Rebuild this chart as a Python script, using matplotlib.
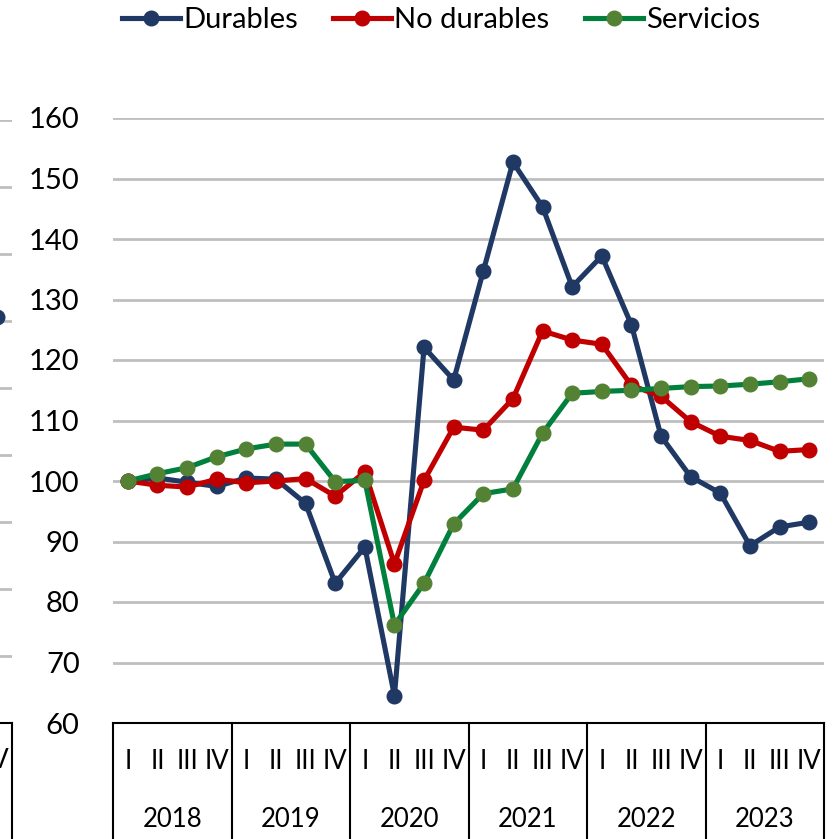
import matplotlib
matplotlib.use("Agg")
import matplotlib.pyplot as plt

plt.rcParams['font.family'] = ['Lato', 'DejaVu Sans']

years = ['2018', '2019', '2020', '2021', '2022', '2023']
quarters = ['I', 'II', 'III', 'IV']

durables = [100.0, 100.5, 99.8, 99.1, 100.5, 100.3, 96.3, 83.1,
            89.1, 64.5, 122.1, 116.7, 134.7, 152.7, 145.3, 132.1,
            137.2, 125.8, 107.4, 100.7, 98.0, 89.3, 92.4, 93.2]
no_durables = [100.0, 99.3, 99.0, 100.3, 99.7, 100.0, 100.4, 97.5,
               101.5, 86.3, 100.1, 108.9, 108.4, 113.6, 124.8, 123.3,
               122.6, 115.8, 114.0, 109.8, 107.4, 106.7, 104.9, 105.2]
servicios = [100.0, 101.2, 102.2, 104.0, 105.3, 106.1, 106.1, 99.9,
             100.1, 76.2, 83.1, 92.9, 97.9, 98.7, 107.9, 114.5,
             114.8, 115.0, 115.3, 115.6, 115.7, 116.0, 116.4, 116.9]

# cropped neighbour panel on the left: only its last point shows
left_panel_tail = [6.06]

W, H = 836, 839
fig = plt.figure(figsize=(W / 100, H / 100), dpi=100)

x = list(range(len(durables)))
ax_top, ax_bot = 118, 723
ax = fig.add_axes([113 / W, 1 - ax_bot / H, (824 - 113) / W, (ax_bot - ax_top) / H])

series = [
    (durables, 'Durables', '#203864', '#203864'),
    (no_durables, 'No durables', '#C00000', '#C00000'),
    (servicios, 'Servicios', '#00803C', '#548235'),
]
for vals, name, lc, mc in series:
    ax.plot(x, vals, color=lc, lw=3.7, marker='o', ms=10.5,
            mfc=mc, mec=mc, label=name, clip_on=False)

ax.set_xlim(-0.5, 23.5)
ax.set_ylim(60, 160)
ax.set_yticks(range(60, 161, 10))
ax.tick_params(axis='y', length=0, pad=24, labelsize=21)
ax.set_xticks([])
ax.grid(axis='y', color='#BFBFBF', lw=2)
ax.set_axisbelow(True)
for s in ['top', 'right', 'left']:
    ax.spines[s].set_visible(False)
ax.spines['bottom'].set_color('black')
ax.spines['bottom'].set_linewidth(1.5)

# two-level category axis
xt = ax.get_xaxis_transform()
for k in range(len(years) + 1):
    b = -0.5 + 4 * k
    ax.plot([b, b], [0, -0.25], color='black', lw=1.5, transform=xt, clip_on=False)
for i in x:
    ax.text(i, -0.063, quarters[i % 4], transform=xt, ha='center', va='center', fontsize=18.5)
for k, yr in enumerate(years):
    ax.text(1.5 + 4 * k, -0.16, yr, transform=xt, ha='center', va='center', fontsize=18.5)

# partial left panel
axl = fig.add_axes([(12 - 711) / W, 1 - ax_bot / H, 711 / W, (ax_bot - 120) / H])
axl.set_xlim(-0.5, 23.5)
axl.set_ylim(0, 9)
axl.set_yticks(range(1, 10))
axl.set_yticklabels([])
axl.tick_params(length=0)
axl.set_xticks([])
axl.grid(axis='y', color='#BFBFBF', lw=2)
for s in ['top', 'right', 'left']:
    axl.spines[s].set_visible(False)
axl.spines['bottom'].set_linewidth(1.5)
axl.plot([23], left_panel_tail, 'o', color='#203864', ms=10.5, clip_on=False)
xtl = axl.get_xaxis_transform()
axl.plot([23.5, 23.5], [0, -0.25], color='black', lw=1.5, transform=xtl, clip_on=False)
axl.text(23, -0.063, 'IV', transform=xtl, ha='center', va='center', fontsize=18.5)

fig.legend(loc='center', bbox_to_anchor=(441 / W, 1 - 20 / H), ncol=3, frameon=False,
           fontsize=21, handlelength=2.0, handletextpad=0.1, columnspacing=1.2,
           borderaxespad=0, borderpad=0)

fig.savefig('out.png', dpi=100)
